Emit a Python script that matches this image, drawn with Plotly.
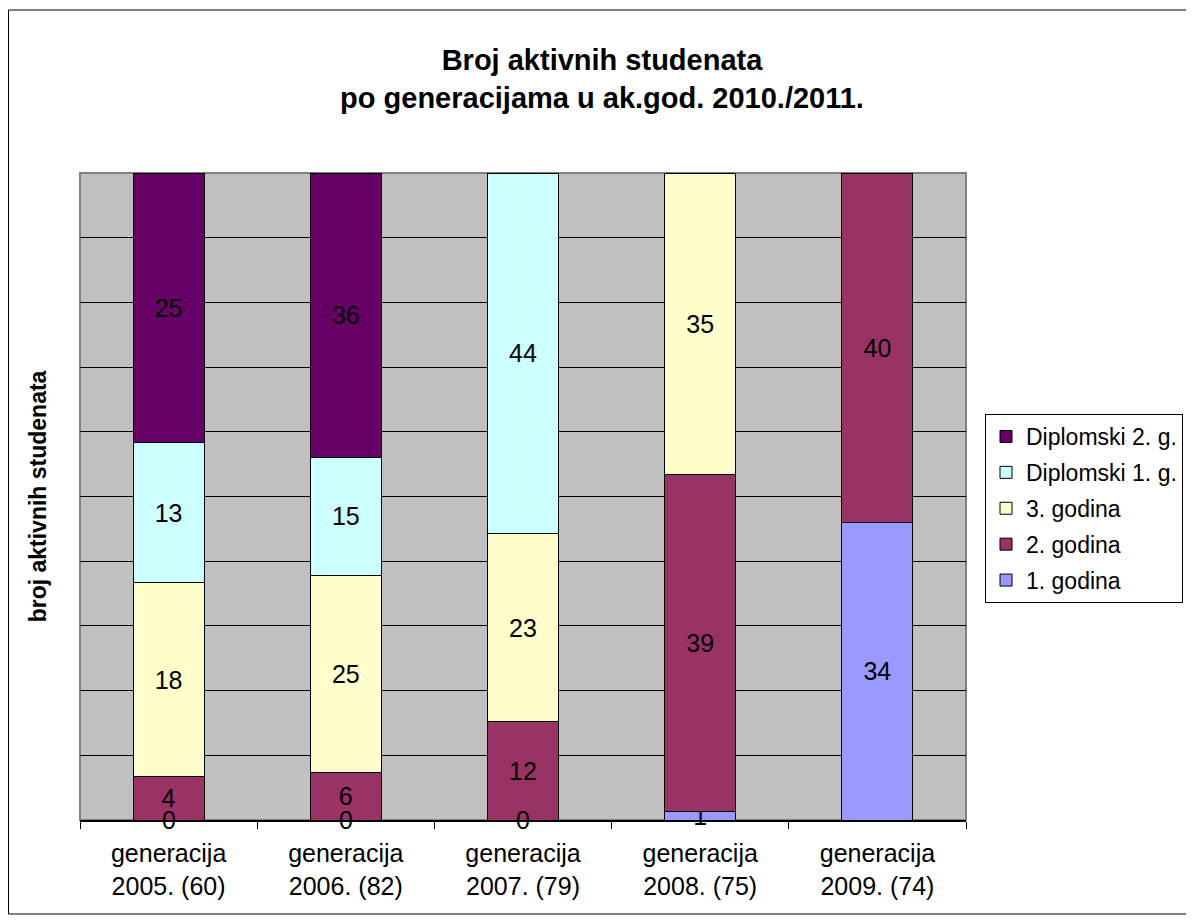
import plotly.graph_objects as go

categories = ["generacija<br>2005. (60)", "generacija<br>2006. (82)", "generacija<br>2007. (79)",
              "generacija<br>2008. (75)", "generacija<br>2009. (74)"]
series_names = ["1. godina", "2. godina", "3. godina", "Diplomski 1. g.", "Diplomski 2. g."]
god1 = [0, 0, 0, 1, 34]
god2 = [4, 6, 12, 39, 40]
god3 = [18, 25, 23, 35, None]
dipl1 = [13, 15, 44, None, None]
dipl2 = [25, 36, None, None, None]
colors = ["#9999FF", "#993366", "#FFFFCC", "#CCFFFF", "#660066"]

FONT = "Arial, Liberation Sans, sans-serif"
W, H = 1194, 923
OFF = 8  # page body margin
L, R, T, B = 80 - OFF, 966 - OFF, 173 - OFF, 820 - OFF

all_series = [god1, god2, god3, dipl1, dipl2]
fig = go.Figure()
for i, (name, vals, col) in enumerate(zip(series_names, all_series, colors)):
    fig.add_trace(go.Bar(
        x=categories, y=vals, name=name, legendgroup="g%d" % i,
        legendrank=len(series_names) - i,
        marker=dict(color=col, line=dict(color="black", width=1)),
        text=[("" if v is None else str(v)) for v in vals],
        textposition="inside", insidetextanchor="middle", textangle=0,
        textfont=dict(family=FONT, size=25, color="black"),
        width=0.4, cliponaxis=False,
    ))

# labels for zero-valued segments (shown at the baseline)
for name, vals in zip(series_names, all_series):
    for c, v in zip(categories, vals):
        if v == 0:
            fig.add_annotation(x=c, y=0, text="0", showarrow=False, yanchor="middle",
                               font=dict(family=FONT, size=25, color="black"))

def px_x(p):
    return (p - OFF - L) / (R - L)

def px_y(p):
    return (B - (p - OFF)) / (B - T)

# whole chart border
fig.add_shape(type="rect", xref="paper", yref="paper",
              x0=px_x(8.5), x1=px_x(1187), y0=px_y(914), y1=px_y(10),
              line=dict(color="black", width=1), layer="below")
# plot area border
fig.add_shape(type="rect", xref="paper", yref="paper", x0=0, x1=1, y0=0, y1=1,
              line=dict(color="#808080", width=2), layer="below")

fig.update_layout(
    width=W, height=H,
    barmode="stack", barnorm="percent",
    paper_bgcolor="white", plot_bgcolor="#C0C0C0",
    margin=dict(l=L, r=W - R, t=T, b=H - B),
    title=dict(text="<b>Broj aktivnih studenata<br>po generacijama u ak.god. 2010./2011.</b>",
               x=(602 - OFF) / W, xref="container", xanchor="center",
               y=1 - (70 - OFF) / H, yref="container", yanchor="middle",
               font=dict(family=FONT, size=29, color="black")),
    font=dict(family=FONT, size=22, color="black"),
    uniformtext=dict(minsize=25, mode="show"),
    legend=dict(traceorder="grouped", tracegroupgap=3,
                x=px_x(985), xanchor="left", y=px_y(414), yanchor="top",
                bordercolor="black", borderwidth=1, bgcolor="white",
                font=dict(family=FONT, size=23, color="black"),
                itemwidth=30),
    showlegend=True,
)
fig.update_xaxes(showline=True, linecolor="black", linewidth=2, ticks="outside", ticklen=7,
                 tickcolor="black", tickson="boundaries", ticklabelstandoff=10,
                 tickfont=dict(family=FONT, size=25, color="black"), showgrid=False)
fig.update_yaxes(range=[0, 100], dtick=10, showgrid=True, gridcolor="black", gridwidth=1,
                 showticklabels=False, zeroline=False, showline=False,
                 title=dict(text="<b>broj aktivnih studenata</b>", standoff=25,
                            font=dict(family=FONT, size=23, color="black")))
fig.write_html("out.html")
